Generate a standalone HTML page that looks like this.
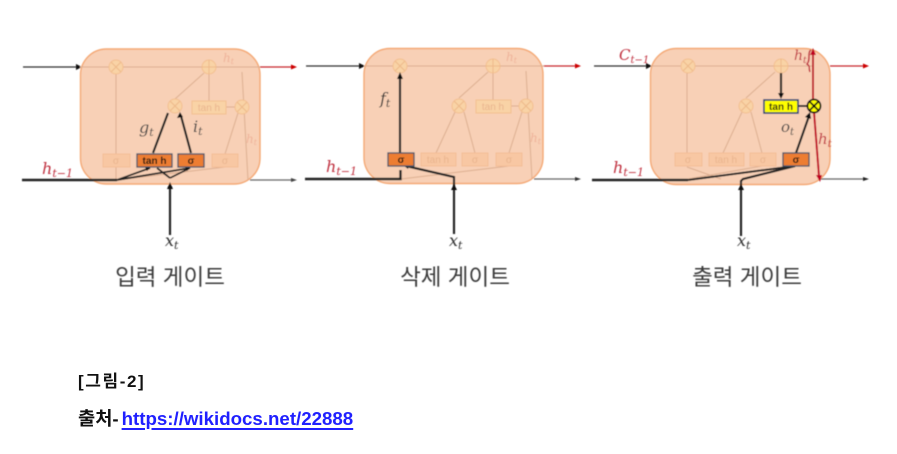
<!DOCTYPE html>
<html lang="ko">
<head>
<meta charset="utf-8">
<title>LSTM 게이트</title>
<style>
html,body{margin:0;padding:0;background:#fff;}
#page{position:relative;width:897px;height:454px;overflow:hidden;background:#fff;font-family:"Liberation Sans","Noto Sans CJK KR",sans-serif;}
svg{position:absolute;left:0;top:0;}
.m{font-family:"DejaVu Serif","Liberation Serif",serif;font-style:italic;}
.cap{position:absolute;color:#111;font-weight:700;white-space:nowrap;}
.f-l{stroke:#dcae90;stroke-width:1;fill:none;}
.f-c{fill:#f9d3a6;stroke:#f3bf90;stroke-width:1;}
.f-x{stroke:#eeb98a;stroke-width:1;fill:none;}
.f-b{fill:#f8c7a3;stroke:#f4bd97;stroke-width:1;}
.f-t{font-size:10px;fill:#e9b48e;text-anchor:middle;font-family:"Liberation Sans",sans-serif;}
.f-r{font-size:12px;fill:#efb39a;}
.k{stroke:#222;fill:none;}
.o-b{fill:#ed7d31;stroke:#44546a;stroke-width:1.3;}
.o-t{font-size:10px;fill:#111;text-anchor:middle;font-family:"Liberation Sans",sans-serif;font-weight:700;}
.red{fill:#c0303f;}
.lab{font-size:22.500px;fill:#3a3a3a;text-anchor:middle;font-family:"Noto Sans CJK KR",sans-serif;font-weight:400;}
</style>
</head>
<body>
<div id="page">
<svg width="897" height="454" viewBox="0 0 897 454">
<defs>
<filter id="soft" x="-5%" y="-5%" width="110%" height="110%"><feGaussianBlur stdDeviation="0.55"/></filter>
</defs>
<g filter="url(#soft)">

<!-- PANEL 1 -->
<g>
<line x1="23" y1="67" x2="80" y2="67" stroke="#333" stroke-width="1.2"/>
<polygon points="82,67 76,64 76,70" fill="#111"/>
<line x1="260" y1="67" x2="292" y2="67" stroke="#c8202c" stroke-width="1.2"/>
<polygon points="297,67 291,64.5 291,69.5" fill="#c00"/>
<line x1="250" y1="180" x2="292" y2="180" stroke="#666" stroke-width="1.2"/>
<polygon points="297,180 291,178 291,182" fill="#444"/>
<rect x="80.5" y="49" width="179.5" height="135" rx="26" fill="#f8d0b6" stroke="#f4a873" stroke-width="1.4"/>
<g>
<path class="f-l" d="M80 67H260M116 154V74M175 99L204 73M209 74V101M226 107H235M225 154L238 113M242 72L248 180M117 180L225 167M150 154V167M116 180V167"/>
<circle class="f-c" cx="116" cy="67" r="7"/><path class="f-x" d="M111 62L121 72M121 62L111 72"/>
<circle class="f-c" cx="209" cy="67" r="7"/><path class="f-x" d="M202 67H216M209 60V74"/>
<circle class="f-c" cx="175" cy="106" r="7"/><path class="f-x" d="M170 101L180 111M180 101L170 111"/>
<circle class="f-c" cx="242" cy="107" r="7"/><path class="f-x" d="M237 102L247 112M247 102L237 112"/>
<rect x="192" y="101" width="34" height="13" fill="#f9d3a6" stroke="#f3bf90"/><text class="f-t" x="209" y="111">tan h</text>
<rect class="f-b" x="103" y="154" width="27" height="13"/><text class="f-t" x="116" y="164">σ</text>
<rect class="f-b" x="212" y="154" width="26" height="13"/><text class="f-t" x="225" y="164">σ</text>
<text class="m f-r" x="223" y="62">h<tspan font-size="8" dy="2">t</tspan></text>
<text class="m f-r" x="246" y="143">h<tspan font-size="8" dy="2">t</tspan></text>
</g>
<path class="k" stroke-width="2.4" d="M22 180H117"/>
<path class="k" stroke-width="1.8" d="M117 180L150 168M117 180L190 168M170 178L157 168M170 178L190 168"/>
<path class="k" stroke-width="2.2" d="M170 235V186"/>
<polygon points="170,182 167,189 173,189" fill="#111"/>
<polygon points="152,166 145,167 147,171" fill="#111"/>
<polygon points="192,166 185,167 187,171" fill="#111"/>
<path class="k" stroke-width="2.2" d="M153 153L168 113M191 153L181 116"/>
<polygon points="180,112 177,118 183,117" fill="#111"/>
<rect class="o-b" x="137" y="154" width="35" height="13"/><text class="o-t" x="154.500" y="164">tan h</text>
<rect class="o-b" x="178" y="154" width="26" height="13"/><text class="o-t" x="191" y="164">σ</text>
<text class="m" x="139" y="133" font-size="16" fill="#444">g<tspan font-size="11" dy="3">t</tspan></text>
<text class="m" x="193" y="132" font-size="16" fill="#444">i<tspan font-size="11" dy="3">t</tspan></text>
<text class="m red" x="42" y="174" font-size="16">h<tspan font-size="11" dy="3">t−1</tspan></text>
<text class="m" x="165" y="246" font-size="16" fill="#333">x<tspan font-size="11" dy="3">t</tspan></text>
<text class="lab" x="170" y="285">입력 게이트</text>
</g>

<!-- PANEL 2 -->
<g>
<line x1="306" y1="66" x2="364" y2="66" stroke="#333" stroke-width="1.2"/>
<polygon points="365,66 359,63 359,69" fill="#111"/>
<line x1="543" y1="66" x2="576" y2="66" stroke="#c8202c" stroke-width="1.2"/>
<polygon points="581,66 575,63.500 575,68.500" fill="#c00"/>
<line x1="534" y1="179" x2="576" y2="179" stroke="#666" stroke-width="1.2"/>
<polygon points="581,179 575,177 575,181" fill="#333"/>
<rect x="364" y="48.500" width="179" height="135" rx="26" fill="#f8d0b6" stroke="#f4a873" stroke-width="1.4"/>
<g transform="translate(284,-1)">
<path class="f-l" d="M80 67H260M175 99L204 73M209 74V101M226 107H235M225 154L238 113M242 72L248 180M117 180L225 167M152 154L171 113M191 154L180 113"/>
<circle class="f-c" cx="116" cy="67" r="7"/><path class="f-x" d="M111 62L121 72M121 62L111 72"/>
<circle class="f-c" cx="209" cy="67" r="7"/><path class="f-x" d="M202 67H216M209 60V74"/>
<circle class="f-c" cx="175" cy="107" r="7"/><path class="f-x" d="M170 102L180 112M180 102L170 112"/>
<circle class="f-c" cx="242" cy="107" r="7"/><path class="f-x" d="M237 102L247 112M247 102L237 112"/>
<rect x="192" y="101" width="35" height="13" fill="#f9d3a6" stroke="#f3bf90"/><text class="f-t" x="209" y="111">tan h</text>
<rect class="f-b" x="137" y="154" width="35" height="13"/><text class="f-t" x="154" y="164">tan h</text>
<rect class="f-b" x="178" y="154" width="26" height="13"/><text class="f-t" x="191" y="164">σ</text>
<rect class="f-b" x="212" y="154" width="26" height="13"/><text class="f-t" x="225" y="164">σ</text>
<text class="m f-r" x="222" y="62">h<tspan font-size="8" dy="2">t</tspan></text>
<text class="m f-r" x="246" y="143">h<tspan font-size="8" dy="2">t</tspan></text>
</g>
<path class="k" stroke-width="2.4" d="M305 179H400.500V170"/>
<path class="k" stroke-width="2.2" d="M400 153V76"/>
<polygon points="400,72 397,79 403,79" fill="#111"/>
<path class="k" stroke-width="2.2" d="M454 234V177L406 166"/>
<polygon points="454,184 451,190 457,190" fill="#111"/>
<polygon points="403,165 409,163 408,169" fill="#111"/>
<rect class="o-b" x="388" y="153" width="26" height="13"/><text class="o-t" x="401" y="163">σ</text>
<text class="m" x="380" y="104" font-size="16" fill="#333">f<tspan font-size="11" dy="3">t</tspan></text>
<text class="m red" x="326" y="172" font-size="16">h<tspan font-size="11" dy="3">t−1</tspan></text>
<text class="m" x="449" y="246" font-size="16" fill="#333">x<tspan font-size="11" dy="3">t</tspan></text>
<text class="lab" x="455" y="285">삭제 게이트</text>
</g>

<!-- PANEL 3 -->
<g>
<line x1="594" y1="66" x2="650" y2="66" stroke="#333" stroke-width="1.2"/>
<polygon points="652,66 646,63 646,69" fill="#111"/>
<line x1="830" y1="66" x2="864" y2="66" stroke="#c8202c" stroke-width="1.2"/>
<polygon points="869,66 863,63.500 863,68.500" fill="#c00"/>
<line x1="820" y1="179" x2="864" y2="179" stroke="#666" stroke-width="1.2"/>
<polygon points="869,179 863,177 863,181" fill="#222"/>
<rect x="650.500" y="48.500" width="179.500" height="136" rx="26" fill="#f8d0b6" stroke="#f4a873" stroke-width="1.4"/>
<g transform="translate(571,-1)">
<path class="f-l" d="M80 67H243M116 154V74M175 99L204 73M152 154L171 113M191 154L180 113M117 180L191 167M150 180L116 168"/>
<circle class="f-c" cx="117" cy="67" r="7"/><path class="f-x" d="M112 62L122 72M122 62L112 72"/>
<circle class="f-c" cx="210" cy="67" r="7"/><path class="f-x" d="M203 67H217M210 60V74"/>
<circle class="f-c" cx="175" cy="107" r="7"/><path class="f-x" d="M170 102L180 112M180 102L170 112"/>
<rect class="f-b" x="104" y="154" width="27" height="13"/><text class="f-t" x="117" y="164">σ</text>
<rect class="f-b" x="138" y="154" width="35" height="13"/><text class="f-t" x="155" y="164">tan h</text>
<rect class="f-b" x="179" y="154" width="26" height="13"/><text class="f-t" x="192" y="164">σ</text>
</g>
<path class="k" stroke-width="2.4" d="M592 180H688"/>
<path class="k" stroke-width="2" d="M688 180L795 166"/>
<path class="k" stroke-width="2.2" d="M741 236V181L743 179L795 166"/>
<polygon points="741,184 738,190 744,190" fill="#111"/>
<path class="k" stroke-width="2.2" d="M796 153L809 116"/>
<polygon points="810,112 805,117 811,119" fill="#111"/>
<path class="k" stroke-width="2.2" d="M781 73V95"/>
<polygon points="781,99 778,93 784,93" fill="#111"/>
<path class="k" stroke-width="2" d="M798 106H808"/>
<path d="M813 54V100M814 112L819 176" stroke="#c00020" stroke-width="2" fill="none"/>
<polygon points="813,48 810,55 816,55" fill="#c00020"/>
<polygon points="820,182 816,175 822,175" fill="#c00020"/>
<path d="M811 50C807 52 811 60 807 64C811 67 808 67 810 72" stroke="#c0303f" stroke-width="1.5" fill="none"/>
<circle cx="814" cy="106" r="6.500" fill="#ffff00" stroke="#111" stroke-width="1.8"/>
<path d="M809.500 101.500L818.500 110.500M818.500 101.500L809.500 110.500" stroke="#111" stroke-width="1.8"/>
<rect x="764" y="100" width="34" height="13" fill="#ffff00" stroke="#1f3f78" stroke-width="1.6"/><text class="o-t" x="781" y="110">tan h</text>
<rect class="o-b" x="783" y="153" width="26" height="13"/><text class="o-t" x="796" y="163">σ</text>
<text class="m red" x="619" y="60" font-size="15">C<tspan font-size="10" dy="3">t−1</tspan></text>
<text class="m red" x="794" y="60" font-size="14">h<tspan font-size="9" dy="3">t</tspan></text>
<text class="m" x="781" y="132" font-size="15" fill="#444">o<tspan font-size="10" dy="3">t</tspan></text>
<text class="m red" x="818" y="144" font-size="15">h<tspan font-size="10" dy="3">t</tspan></text>
<text class="m red" x="613" y="173" font-size="16">h<tspan font-size="11" dy="3">t−1</tspan></text>
<text class="m" x="737" y="246" font-size="16" fill="#333">x<tspan font-size="11" dy="3">t</tspan></text>
<text class="lab" x="747" y="285">출력 게이트</text>
</g>
</g>
</svg>

<div class="cap" style="left:78px;top:370px;font-size:17px;line-height:24px;letter-spacing:1.6px;">[그림-2]</div>
<div class="cap" style="left:78px;top:406px;font-size:18.700px;line-height:26px;">출처-<a href="#" style="margin-left:3px;color:#2020ff;text-decoration:underline;text-decoration-thickness:1.500px;text-underline-offset:2.500px;">https://wikidocs.net/22888</a></div>
</div>
</body>
</html>
